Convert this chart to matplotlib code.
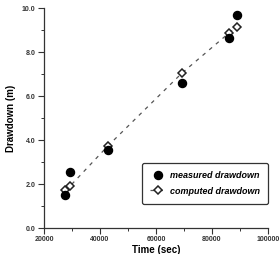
import matplotlib
matplotlib.use("Agg")
import matplotlib.pyplot as plt
from matplotlib.ticker import MultipleLocator, FormatStrFormatter

time_s = [27600, 29400, 42800, 69300, 86000, 88800]
measured = [1.50, 2.55, 3.55, 6.60, 8.65, 9.67]
computed = [1.72, 1.92, 3.73, 7.05, 8.86, 9.14]

x_ticks = [20000, 40000, 60000, 80000, 100000]
y_ticks = [0.0, 2.0, 4.0, 6.0, 8.0, 10.0]

plt.rcParams['font.family'] = ['Liberation Sans', 'DejaVu Sans']

fig = plt.figure(figsize=(2.8, 2.54), dpi=100)
ax = fig.add_axes([0.157, 0.102, 0.8, 0.866])

ax.plot(time_s, computed, linestyle=(0, (3, 4)), color='#555555', linewidth=0.9,
        marker='D', markersize=3.8, markerfacecolor='white', markeredgecolor='#222222',
        markeredgewidth=1.1, label='computed drawdown', zorder=2)
ax.plot(time_s, measured, linestyle='none', marker='o', markersize=5.8,
        color='black', label='measured drawdown', zorder=3)

ax.set_xlim(20000, 100000)
ax.set_ylim(0, 10)
ax.set_xticks(x_ticks)
ax.set_yticks(y_ticks)
ax.xaxis.set_minor_locator(MultipleLocator(10000))
ax.yaxis.set_minor_locator(MultipleLocator(1.0))
ax.yaxis.set_major_formatter(FormatStrFormatter('%.1f'))
for s in ['top', 'right']:
    ax.spines[s].set_visible(False)
for s in ['left', 'bottom']:
    ax.spines[s].set_linewidth(0.9)
    ax.spines[s].set_color('#333333')
ax.tick_params(which='major', direction='out', length=4, width=0.8, labelsize=5,
               colors='#333333', pad=2)
ax.tick_params(which='minor', direction='out', length=2.5, width=0.7, colors='#333333')
for lab in ax.get_xticklabels() + ax.get_yticklabels():
    lab.set_fontweight('bold')

ax.set_xlabel('Time (sec)', fontsize=7, fontweight='bold', labelpad=1)
ax.set_ylabel('Drawdown (m)', fontsize=7, fontweight='bold', labelpad=4)

h, l = ax.get_legend_handles_labels()
leg = ax.legend([h[1], h[0]], [l[1], l[0]], loc='lower right',
                bbox_to_anchor=(1.02, 0.09), fancybox=True, framealpha=1,
                edgecolor='#333333', handlelength=1.7, handletextpad=0.5,
                borderpad=0.9, labelspacing=0.75,
                prop={'size': 6.5, 'weight': 'bold', 'style': 'italic'})
leg.get_frame().set_linewidth(0.9)

fig.savefig('out.png', dpi=100)
